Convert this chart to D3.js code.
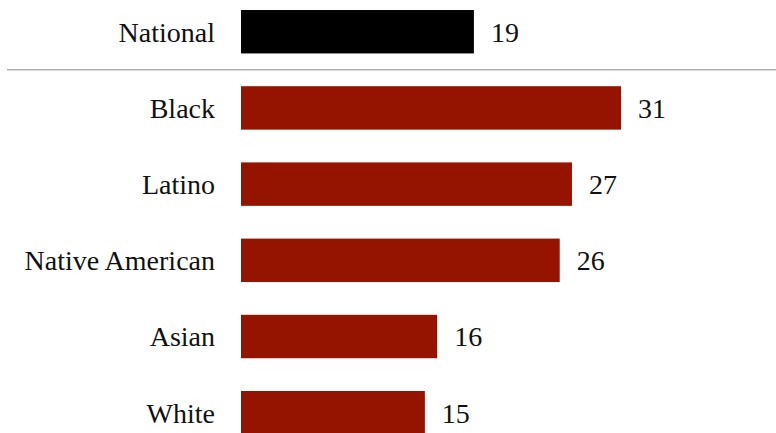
<!DOCTYPE html>
<html>
<head>
<meta charset="utf-8">
<script src="https://cdn.jsdelivr.net/npm/d3@7"></script>
<style>
  html, body { margin: 0; padding: 0; background: #fff; font-family: "Liberation Serif", "Times New Roman", Tinos, serif; }
  svg, svg text { font-family: "Liberation Serif", "Times New Roman", Tinos, serif !important; }
</style>
</head>
<body>
<script>
const categories = ["National", "Black", "Latino", "Native American", "Asian", "White"];
const values = [19, 31, 27, 26, 16, 15];
const colors = ["#000000", "#951400", "#951400", "#951400", "#951400", "#951400"];

const W = 776, H = 433;
const FONT = `"Liberation Serif", "Times New Roman", Tinos, serif`;
const svg = d3.select("body").append("svg").attr("width", W).attr("height", H)
  .attr("font-family", FONT)
  .style("display", "block");

const x = d3.scaleLinear().domain([0, 31]).range([241, 621]);
const step = 76.2, p = 0.43;
const top0 = 10 - step * p / 2;
const y = d3.scaleBand().domain(categories)
  .range([top0, top0 + step * categories.length])
  .paddingInner(p).paddingOuter(p / 2);

const data = categories.map((c, i) => ({c, v: values[i], col: colors[i]}));

svg.selectAll("rect").data(data).enter().append("rect")
  .attr("x", x(0))
  .attr("y", d => y(d.c))
  .attr("width", d => x(d.v) - x(0))
  .attr("height", y.bandwidth())
  .attr("fill", d => d.col);

svg.append("g").selectAll("text").data(data).enter().append("text")
  .attr("x", 215)
  .attr("y", d => y(d.c) + y.bandwidth() / 2)
  .attr("dy", "0.35em")
  .attr("text-anchor", "end")
  .attr("font-size", 28)
  .attr("font-family", FONT)
  .attr("fill", "#111")
  .text(d => d.c);

svg.append("g").selectAll("text").data(data).enter().append("text")
  .attr("x", d => x(d.v) + 17)
  .attr("y", d => y(d.c) + y.bandwidth() / 2)
  .attr("dy", "0.35em")
  .attr("font-size", 28)
  .attr("font-family", FONT)
  .attr("fill", "#111")
  .text(d => d.v);

const sepY = (y(categories[0]) + y.bandwidth() + y(categories[1])) / 2;
svg.append("line")
  .attr("x1", 7).attr("x2", W)
  .attr("y1", sepY).attr("y2", sepY)
  .attr("stroke", "#b0b0b0").attr("stroke-width", 1.5);
</script>
</body>
</html>
